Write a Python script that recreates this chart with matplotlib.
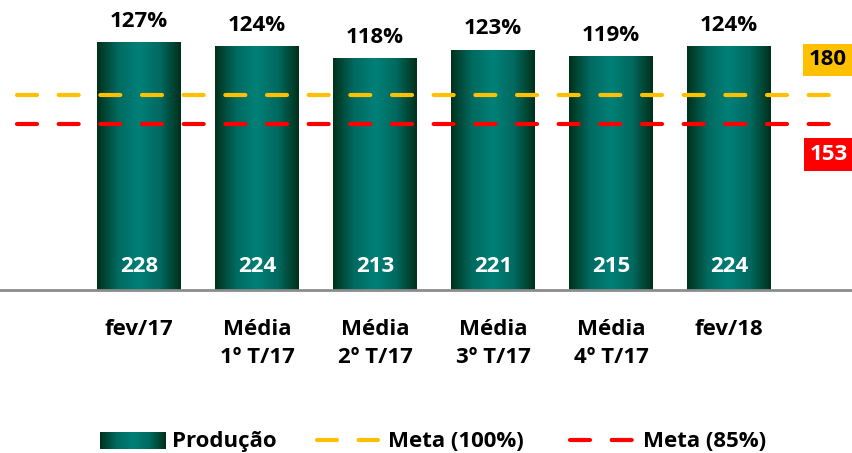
import numpy as np
import matplotlib
matplotlib.use("Agg")
import matplotlib.pyplot as plt
from matplotlib.colors import LinearSegmentedColormap
from matplotlib.lines import Line2D

plt.rcParams['font.family'] = ['Open Sans', 'DejaVu Sans']
plt.rcParams['font.weight'] = 'bold'

categories = ['fev/17', 'Média\n1º T/17', 'Média\n2º T/17', 'Média\n3º T/17', 'Média\n4º T/17', 'fev/18']
producao = [228, 224, 213, 221, 215, 224]
percent = ['127%', '124%', '118%', '123%', '119%', '124%']
meta_100 = 180
meta_85 = 153

W, H = 852, 453
fs = 16
fig = plt.figure(figsize=(W / 100, H / 100), dpi=100)
ax = fig.add_axes([0, (H - 290) / H, 1, 290 / H])

grad = LinearSegmentedColormap.from_list('bar', ['#00311a', '#006a60', '#008078', '#006a60', '#00301a'])
g = np.linspace(0, 1, 256).reshape(1, -1)

x = np.arange(len(categories))
width = 0.71
for i, v in enumerate(producao):
    ax.imshow(g, cmap=grad, extent=(x[i] - width / 2, x[i] + width / 2, 0, v),
              aspect='auto', zorder=2, interpolation='bilinear')
    ax.annotate(percent[i], (x[i], v), xytext=(0, 8), textcoords='offset points',
                ha='center', va='bottom', fontsize=fs, color='black')
    ax.annotate(str(v), (x[i], 0), xytext=(0, 17), textcoords='offset points',
                ha='center', va='center', fontsize=fs, color='white', zorder=5)

xs = [-1.034, 5.93]
ax.plot(xs, [meta_100, meta_100], color='#ffc000', lw=3, dashes=(4.8, 5.2),
        dash_capstyle='round', zorder=4)
ax.plot(xs, [meta_85, meta_85], color='#ff0000', lw=3, dashes=(4.8, 5.2),
        dash_capstyle='round', zorder=4)

ax.annotate(str(meta_100), (1, meta_100), xycoords=('axes fraction', 'data'),
            xytext=(-4, 25), textcoords='offset points', ha='right', va='center',
            fontsize=fs, color='black',
            bbox=dict(boxstyle='square,pad=0.25', fc='#ffc000', ec='none'))
ax.annotate(str(meta_85), (1, meta_85), xycoords=('axes fraction', 'data'),
            xytext=(-3, -22), textcoords='offset points', ha='right', va='center',
            fontsize=fs, color='white',
            bbox=dict(boxstyle='square,pad=0.25', fc='#ff0000', ec='none'))

ax.set_xlim(-139 / 118, (852 - 139) / 118)
ax.set_ylim(0, 290 / 1.085)
ax.set_xticks(x, categories, fontsize=fs, linespacing=1.4)
ax.tick_params(axis='x', length=0, pad=21)
ax.set_yticks([])
for s in ['top', 'right', 'left']:
    ax.spines[s].set_visible(False)
ax.spines['bottom'].set_color('#8c8c8c')
ax.spines['bottom'].set_linewidth(2)

# legend
ly = 1 - 440 / H
lb = 1 - 447 / H
lax = fig.add_axes([100 / W, 1 - 449 / H, 65 / W, 17 / H])
lax.imshow(g, cmap=grad, aspect='auto', interpolation='bilinear')
lax.axis('off')
fig.text(172 / W, lb, 'Produção', fontsize=fs, va='baseline')
fig.lines.append(Line2D([317 / W, 378 / W], [ly, ly], transform=fig.transFigure,
                        color='#ffc000', lw=3, dashes=(4.8, 5.2), dash_capstyle='round'))
fig.text(388 / W, lb, 'Meta (100%)', fontsize=fs, va='baseline')
fig.lines.append(Line2D([570 / W, 633 / W], [ly, ly], transform=fig.transFigure,
                        color='#ff0000', lw=3, dashes=(4.8, 5.2), dash_capstyle='round'))
fig.text(643 / W, lb, 'Meta (85%)', fontsize=fs, va='baseline')

fig.savefig('out.png', dpi=100)
